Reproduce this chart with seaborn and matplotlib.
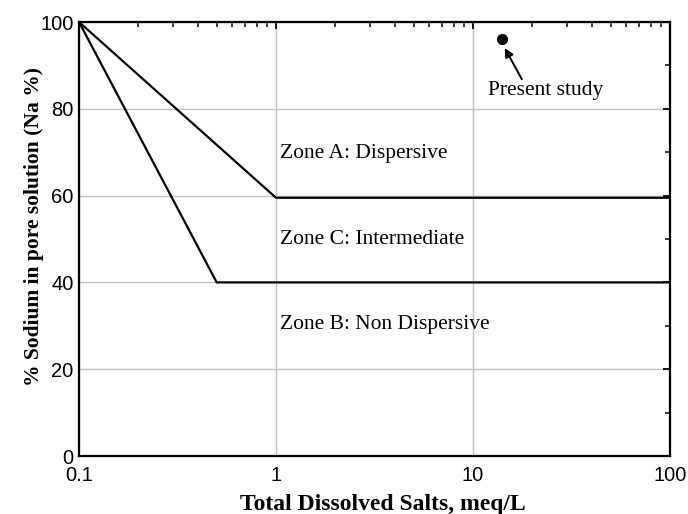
import matplotlib
matplotlib.use("Agg")
import matplotlib.pyplot as plt
import seaborn as sns
import pandas as pd
from matplotlib.ticker import LogLocator, FixedLocator, NullFormatter, FuncFormatter

sns.set_theme(style="white")
plt.rcParams["font.family"] = ["Liberation Sans", "DejaVu Sans"]
plt.rcParams["text.color"] = "black"
plt.rcParams["axes.labelcolor"] = "black"
plt.rcParams["xtick.color"] = "black"
plt.rcParams["ytick.color"] = "black"

# Boundary between dispersive and intermediate soils
upper_tds = [0.1, 1.0, 100.0]
upper_na = [100.0, 59.5, 59.5]
# Boundary between intermediate and non-dispersive soils
lower_tds = [0.1, 0.5, 100.0]
lower_na = [100.0, 40.0, 40.0]
# Sample measured in this work
study_tds = [14.0]
study_na = [96.1]

zone_labels = ["Zone A: Dispersive", "Zone C: Intermediate", "Zone B: Non Dispersive"]
zone_y = [69.8, 49.8, 30.2]

upper_df = pd.DataFrame({"tds": upper_tds, "na": upper_na})
lower_df = pd.DataFrame({"tds": lower_tds, "na": lower_na})
study_df = pd.DataFrame({"tds": study_tds, "na": study_na})

fig = plt.figure(figsize=(6.88, 5.14), dpi=100)
ax = fig.add_axes([79 / 688, 58 / 514, 591 / 688, 434 / 514])

ax.set_xscale("log")
ax.set_xlim(0.1, 100)
ax.set_ylim(0, 100)

ax.grid(True, which="major", color="#c0c0c0", linewidth=1.0)
ax.set_axisbelow(True)

sns.lineplot(data=upper_df, x="tds", y="na", ax=ax, color="black", linewidth=1.6, sort=False, estimator=None)
sns.lineplot(data=lower_df, x="tds", y="na", ax=ax, color="black", linewidth=1.6, sort=False, estimator=None)
sns.scatterplot(data=study_df, x="tds", y="na", ax=ax, color="black", s=55, marker="o",
                edgecolor="black", zorder=5)

serif = ["Liberation Serif", "DejaVu Serif"]
for lab, yv in zip(zone_labels, zone_y):
    ax.text(1.05, yv, lab, fontsize=15.5, family=serif, va="center", ha="left", color="black")

ax.text(11.9, 84.2, "Present study", fontsize=15.5, family=serif, ha="left", va="center", color="black")
ax.annotate("", xy=(14.5, 94.0), xytext=(17.7, 86.8),
            arrowprops=dict(arrowstyle="-|>", color="black", lw=1.4,
                            mutation_scale=13, shrinkA=0, shrinkB=0))

ax.set_xlabel("Total Dissolved Salts, meq/L", fontsize=17, fontweight="bold", family=serif, color="black")
ax.set_ylabel("% Sodium in pore solution (Na %)", fontsize=15.5, fontweight="bold", family=serif, color="black")
ax.xaxis.label.set_va("baseline")
ax.xaxis.set_label_coords(0.514, -0.1244)
ax.yaxis.set_label_coords(-0.059, 0.528)

ax.xaxis.set_major_locator(FixedLocator([0.1, 1, 10, 100]))
ax.xaxis.set_major_formatter(FuncFormatter(lambda v, p: f"{v:g}"))
ax.xaxis.set_minor_locator(LogLocator(base=10, subs=range(2, 10)))
ax.xaxis.set_minor_formatter(NullFormatter())
ax.yaxis.set_major_locator(FixedLocator([0, 20, 40, 60, 80, 100]))
ax.yaxis.set_minor_locator(FixedLocator([10, 30, 50, 70, 90]))

ax.tick_params(axis="both", which="major", direction="in", length=5, width=1.3,
               top=True, right=True, labelsize=14.5, colors="black")
ax.tick_params(axis="x", which="major", pad=7)
ax.tick_params(axis="y", which="major", pad=4)
ax.tick_params(axis="both", which="minor", direction="in", length=3.5, width=1.1,
               top=True, right=True, colors="black")

for sp in ax.spines.values():
    sp.set_visible(True)
    sp.set_color("black")
    sp.set_linewidth(1.6)

fig.savefig("out.png", dpi=100)
